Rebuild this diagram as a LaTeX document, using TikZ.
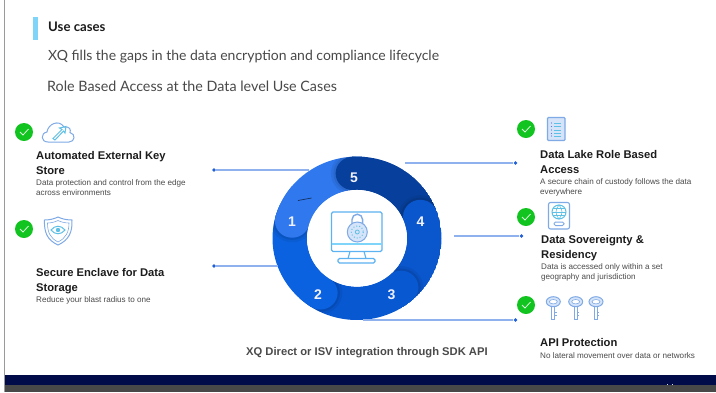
\documentclass[tikz,border=0pt]{standalone}
\usepackage{fontspec}
\setmainfont{Liberation Sans}
\newfontfamily\headfont{Lato}
\usetikzlibrary{calc}
\definecolor{accent}{HTML}{7FD4FA}
\definecolor{navy}{HTML}{020B4A}
\definecolor{footgrey}{HTML}{484848}
\definecolor{edgegrey}{HTML}{9A9A9A}
\definecolor{okgreen}{HTML}{12C41F}
\definecolor{ink}{HTML}{1C1C1C}
\definecolor{subink}{HTML}{4A4A4A}
\definecolor{leadline}{HTML}{8FB2EE}
\definecolor{leaddot}{HTML}{1F5FD8}
\definecolor{iconblue}{HTML}{7FAAE6}
\definecolor{iconcyan}{HTML}{5FC0E6}
\definecolor{iconfill}{HTML}{D5E4F8}
\definecolor{monblue}{HTML}{5DB2F2}
\definecolor{segA}{HTML}{2F78EE}
\definecolor{segB}{HTML}{0B62E0}
\definecolor{segC}{HTML}{0858D2}
\definecolor{segD}{HTML}{0A56CC}
\definecolor{segE}{HTML}{07409C}
\tikzset{
  x=1pt,y=-1pt,
  txt/.style={anchor=north west,inner sep=0pt,align=left},
  headtxt/.style={txt,font=\headfont\fontsize{14}{16}\selectfont,text=ink!80},
  lbl/.style={txt,font=\bfseries\fontsize{11.2}{15}\selectfont,text=ink},
  desc/.style={txt,font=\fontsize{8.1}{10}\selectfont,text=subink},
  okdot/.style={circle,fill=okgreen,minimum size=18pt,inner sep=0pt},
  lead/.style={draw=leadline,line width=1.1pt},
  leaddotn/.style={circle,fill=leaddot,minimum size=3.8pt,inner sep=0pt},
  numtxt/.style={inner sep=0pt,font=\bfseries\fontsize{14}{16}\selectfont,text=white!95!blue},
  ico/.style={draw=iconblue,line width=1pt},
  icoc/.style={draw=iconcyan,line width=1pt},
  mon/.style={draw=monblue,line width=1.1pt}
}
\newcommand{\ringseg}[3]{%
  \fill[black,opacity=.06] (#1:67.25) circle (22);
  \fill[black,opacity=.08] (#1:67.25) circle (19.5);
  \fill[#3] (#1:84.5) arc[start angle=#1,end angle=#2,radius=84.5] -- (#2:50) arc[start angle=#2,end angle=#1,radius=50] -- cycle;
  \fill[#3] (#1:67.25) circle (17.25);
}
\begin{document}
\begin{tikzpicture}
\useasboundingbox (0,0) rectangle (716,392);
\fill[white] (0,0) rectangle (716,392);
% frame and footer
\draw[edgegrey,line width=1pt] (4.5,0) -- (4.5,392);
\fill[navy] (5,374.5) rectangle (716,385);
\fill[footgrey] (5,385) rectangle (716,392);
\fill[white!70!gray] (667,383.5) rectangle (668.2,385);
\fill[white!70!gray] (672,383.5) rectangle (673.2,385);
% header
\fill[accent] (33,17) rectangle (38.3,40);
\node[headtxt,font=\headfont\bfseries\fontsize{13.2}{16}\selectfont,text=ink] (title) at (48,21.5) {Use cases};
\node[headtxt] (line1) at (48,50) {XQ fills the gaps in the data encryption and compliance lifecycle};
\node[headtxt,font=\headfont\fontsize{14.3}{16}\selectfont] (line2) at (47,81) {Role Based Access at the Data level Use Cases};
% ring
\begin{scope}[shift={(357,238.3)},y=.967pt]
  \begin{scope}
    \clip (0,0) circle (84.5);
    \ringseg{164.6}{85}{segA}
    \ringseg{93.5}{10}{segE}
    \ringseg{19.6}{-59}{segD}
    \ringseg{-49}{-133}{segC}
    \ringseg{-123}{-205}{segB}
    \ringseg{164.6}{140}{segA}
  \end{scope}
  \fill[white] (0,0) circle (50);
\end{scope}
\node[numtxt] (n1) at (292,222) {1};
\node[numtxt] (n2) at (318,294.5) {2};
\node[numtxt] (n3) at (391.5,294.5) {3};
\node[numtxt] (n4) at (420.5,222) {4};
\node[numtxt] (n5) at (354,177.5) {5};
\draw[black!60!segA,line width=.7pt] (298,200.5) -- (311.5,198);
% monitor and lock
\draw[mon,rounded corners=1.5pt] (331.5,212) rectangle (382,251.5);
\draw[draw=accent,line width=1.4pt] (331.5,244) -- (382,244);
\draw[mon] (350,251.5) -- (348,258.5) (364,251.5) -- (366,258.5);
\draw[mon,rounded corners=1.5pt] (338,258.5) rectangle (375,263);
\draw[draw=iconblue,line width=1.4pt] (352,226) -- (352,219.5) arc[start angle=180,end angle=360,radius=5.3] -- (362.6,226);
\draw[draw=iconblue,fill=iconfill,line width=1pt] (357.3,232) circle (10);
\draw[draw=iconcyan,dotted,line width=1pt] (357.3,232) circle (6);
\draw[draw=iconcyan,line width=.8pt] (357.3,232) circle (2);
% connectors
\node[leaddotn] (dotA) at (214,170) {};
\node[leaddotn] (dotB) at (214,266) {};
\node[leaddotn] (dotC) at (515.5,163) {};
\node[leaddotn] (dotD) at (521.5,236) {};
\node[leaddotn] (dotE) at (515.5,320) {};
\coordinate (ringA) at (309,170);
\coordinate (ringB) at (278,266);
\coordinate (ringC) at (405,163);
\coordinate (ringD) at (454,236);
\coordinate (ringE) at (363,320);
\draw[lead] (dotA) -- (ringA);
\draw[lead] (dotB) -- (ringB);
\draw[lead] (ringC) -- (dotC);
\draw[lead] (ringD) -- (dotD);
\draw[lead] (ringE) -- (dotE);
% check marks
\foreach \nm/\px/\py in {okA/24/132,okB/24/229,okC/526/129,okD/526/217,okE/526/305}{
  \node[okdot] (\nm) at (\px,\py) {};
  \draw[white!85!okgreen,line width=.8pt] ($(\nm)+(-4,0)$) -- ($(\nm)+(-1,3)$) -- ($(\nm)+(4.5,-3)$);
}
% cloud icon
\draw[ico] (48,142) .. controls (40.5,142) and (40.5,133) .. (47,132) .. controls (48,124) and (59,119) .. (64,127) .. controls (70,126) and (71,130) .. (70,132.5) .. controls (76,134) and (75,142) .. (69,142) -- cycle;
\draw[icoc] (53,138.5) -- (62,129.5) -- (59.5,128) -- (66,126.5) -- (65,133) -- (63.5,131) -- (55,140) -- cycle;
% shield icon
\draw[ico] (58,217) .. controls (54,219) and (49,220) .. (44.5,220) .. controls (44,232) and (47,240) .. (58,245) .. controls (69,240) and (72.5,232) .. (72,220) .. controls (67,220) and (62,219) .. (58,217) -- cycle;
\draw[ico,line width=.6pt] (58,220.5) .. controls (55,222) and (51,223) .. (47.5,223) .. controls (47.5,232) and (50,238) .. (58,242) .. controls (66,238) and (69,232) .. (69,223) .. controls (65,223) and (61,222) .. (58,220.5) -- cycle;
\draw[icoc] (51,230) .. controls (55,225) and (61,225) .. (65,230) .. controls (61,235) and (55,235) .. (51,230) -- cycle;
\fill[iconcyan] (58,230) circle (2.2);
% document icon
\draw[ico,fill=iconfill,rounded corners=1pt,line width=1.1pt] (547.5,117.5) rectangle (565,140.5);
\foreach \ly in {123,126.5,130,133.5,136}{
  \draw[icoc,line width=.7pt] (553.5,\ly) -- (561,\ly);
  \fill[iconblue!70!blue] (551.5,\ly) circle (.7);
}
% passport icon
\draw[ico,rounded corners=2pt,line width=1.1pt] (548.5,202.5) rectangle (569.5,229);
\draw[icoc] (559,212) circle (7);
\draw[icoc,line width=.6pt] (559,205) .. controls (555,209) and (555,215) .. (559,219) .. controls (563,215) and (563,209) .. (559,205) -- cycle;
\draw[icoc,line width=.6pt] (552,212) -- (566,212) (553,208.5) -- (565,208.5) (553,215.5) -- (565,215.5);
\draw[ico,rounded corners=1.5pt] (554,222) rectangle (564,225.5);
% key icons
\foreach \kx in {553.3,575.7,596}{
  \draw[ico,fill=iconfill] (\kx,301.7) ellipse (7 and 5);
  \draw[ico,fill=white,line width=.6pt] (\kx,301.7) ellipse (4 and 2.2);
  \draw[ico] (\kx-1.5,306.7) -- (\kx-1.5,319) -- (\kx+1.5,319) -- (\kx+1.5,306.7);
  \draw[ico,line width=.7pt] (\kx+1.5,312) -- (\kx+3.2,312) (\kx+1.5,315) -- (\kx+3.2,315);
}
% left labels
\node[lbl] (tA) at (36,151.5) {Automated External Key\\Store};
\node[desc] (dA) at (36,179.5) {Data protection and control from the edge\\across environments};
\node[lbl] (tB) at (36,268.5) {Secure Enclave for Data\\Storage};
\node[desc] (dB) at (36,296) {Reduce your blast radius to one};
% right labels
\node[lbl] (tC) at (540,150) {Data Lake Role Based\\Access};
\node[desc] (dC) at (540,178) {A secure chain of custody follows the data\\everywhere};
\node[lbl] (tD) at (541,235.5) {Data Sovereignty \&\\Residency};
\node[desc] (dD) at (541,263) {Data is accessed only within a set\\geography and jurisdiction};
\node[lbl] (tE) at (540,338.5) {API Protection};
\node[desc] (dE) at (540,352) {No lateral movement over data or networks};
% bottom caption
\node[lbl,text=subink,font=\bfseries\fontsize{11.2}{14}\selectfont] (cap) at (246,347.5) {XQ Direct or ISV integration through SDK API};
\end{tikzpicture}
\end{document}
